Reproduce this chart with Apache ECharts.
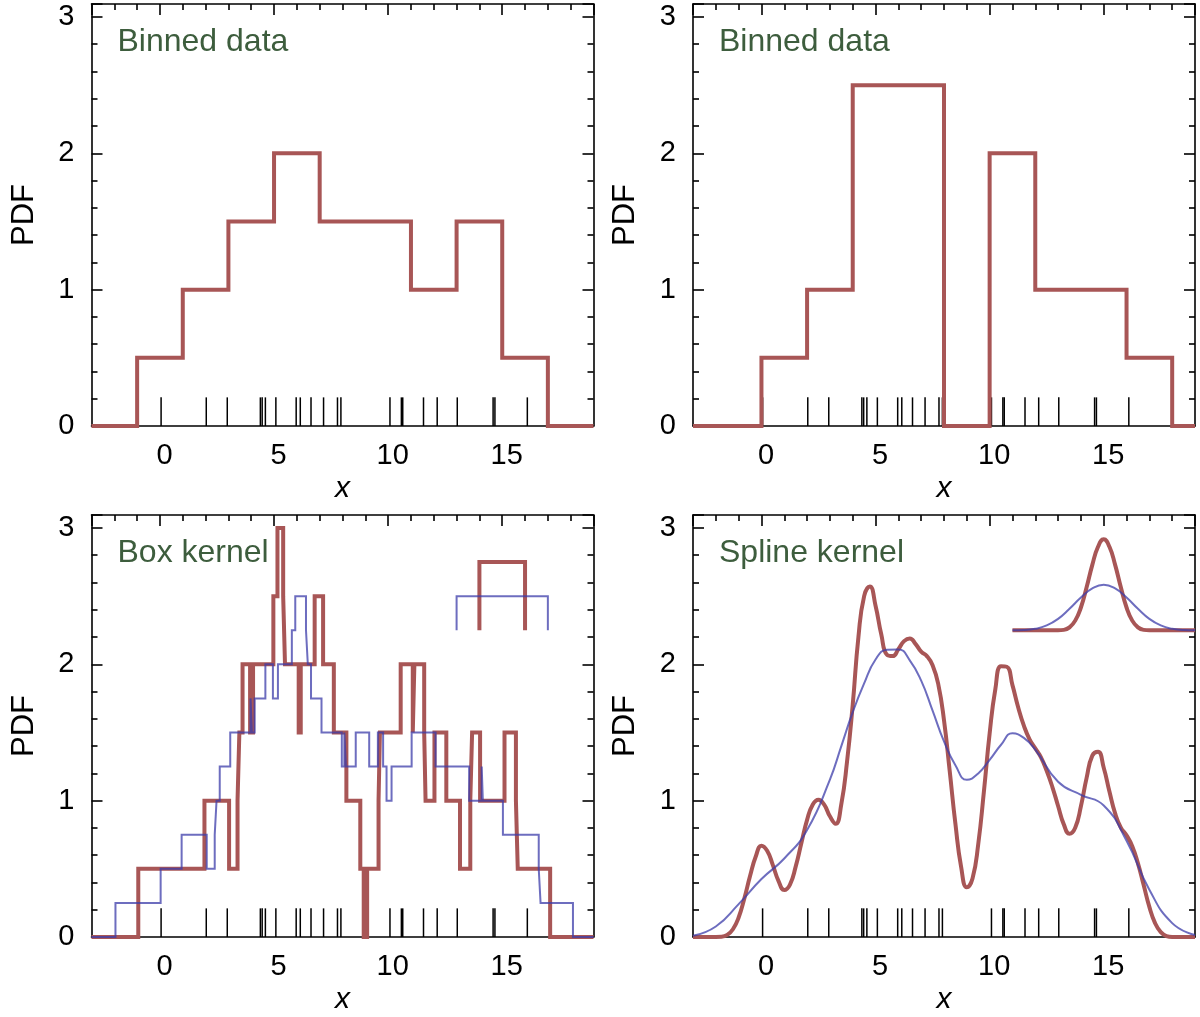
<!DOCTYPE html>
<html>
<head>
<meta charset="utf-8">
<script src="https://cdn.jsdelivr.net/npm/echarts@6/dist/echarts.min.js"></script>
<style>
html,body{margin:0;padding:0;background:#fff;}
#chart{width:1200px;height:1017px;}
</style>
</head>
<body>
<div id="chart"></div>
<script>
// ---------------- data ----------------
const panelLabels = ['Binned data', 'Binned data', 'Box kernel', 'Spline kernel'];
const xAxisName = 'x';
const yAxisName = 'PDF';

// sample positions (rug marks)
const rugX = [0.05, 2.03, 2.95, 4.40, 4.48, 4.62, 5.08, 5.97, 6.15, 6.62, 7.17, 7.78, 7.93,
              10.08, 10.58, 10.64, 11.55, 12.15, 13.03, 14.60, 14.68, 16.10];

// top-left histogram (bin edges, value held from each edge)
const histAEdges = [-3, -1, 1, 3, 5, 7, 9, 11, 13, 15, 17, 19];
const histAPdf   = [0, 0.5, 1, 1.5, 2, 1.5, 1.5, 1, 1.5, 0.5, 0, 0];

// top-right histogram
const histBEdges = [-3, 0, 2, 4, 6, 8, 10, 12, 14, 16, 18, 19];
const histBPdf   = [0, 0.5, 1, 2.5, 2.5, 0, 2, 1, 1, 0.5, 0, 0];

// box kernel, narrow (red)
const boxNarrowX = [-3, -0.95, 1.95, 3.03, 3.40, 3.48, 3.62, 3.95, 4.08, 4.97, 5.15, 5.40, 5.48, 6.08, 6.17,
                    6.78, 7.15, 7.62, 8.17, 8.78, 8.93, 9.08, 9.58, 9.64, 10.55, 11.08, 11.15, 11.58, 11.64,
                    12.03, 12.55, 13.15, 13.60, 13.68, 14.03, 15.10, 15.60, 15.68, 17.10, 19];
const boxNarrowPdf = [0, 0.5, 1, 0.5, 1, 1.5, 2, 1.5, 2, 2.5, 3, 2.5, 2, 1.5, 2,
                      2.5, 2, 1.5, 1, 0.5, 0, 0.5, 1, 1.5, 2, 1.5, 2, 1.5, 1,
                      1.5, 1, 0.5, 1, 1.5, 1, 1.5, 1, 0.5, 0, 0];
// box kernel, wide (blue)
const boxWideX = [-3, -1.95, 0.03, 0.95, 2.05, 2.40, 2.48, 2.62, 3.08, 3.97, 4.03, 4.15, 4.62, 4.95, 5.17,
                  5.78, 5.93, 6.40, 6.48, 6.62, 7.08, 7.97, 8.08, 8.15, 8.58, 9.17, 9.55, 9.78, 9.93, 10.15,
                  11.03, 12.08, 13.55, 14.10, 14.15, 15.03, 16.60, 16.68, 18.10, 19];
const boxWidePdf = [0, 0.25, 0.5, 0.75, 0.5, 0.75, 1, 1.25, 1.5, 1.75, 1.5, 1.75, 2, 1.75, 2,
                    2.25, 2.5, 2.25, 2, 1.75, 1.5, 1.25, 1.5, 1.25, 1.5, 1.25, 1.5, 1.25, 1, 1.25,
                    1.5, 1.25, 1, 1.25, 1, 0.75, 0.5, 0.25, 0, 0];
// box kernel shapes (inset)
const boxShapeNarrowX = [14, 14, 16, 16];
const boxShapeNarrowY = [2.25, 2.75, 2.75, 2.25];
const boxShapeWideX = [13, 13, 17, 17];
const boxShapeWideY = [2.25, 2.5, 2.5, 2.25];

// spline kernel, narrow (red)
const splineNarrowX = [-3, -2, -1.75, -1.5, -1.25, -1, -0.75, -0.5, -0.25, 0,
  0.25, 0.5, 0.75, 1, 1.25, 1.5, 1.75, 2, 2.25, 2.5,
  2.75, 3, 3.25, 3.5, 3.75, 4, 4.25, 4.5, 4.75, 5,
  5.25, 5.5, 5.75, 6, 6.25, 6.5, 6.75, 7, 7.25, 7.5,
  7.75, 8, 8.25, 8.5, 8.75, 9, 9.25, 9.5, 9.75, 10,
  10.25, 10.5, 10.75, 11, 11.25, 11.5, 11.75, 12, 12.25, 12.5,
  12.75, 13, 13.25, 13.5, 13.75, 14, 14.25, 14.5, 14.75, 15,
  15.25, 15.5, 15.75, 16, 16.25, 16.5, 16.75, 17, 17.25, 17.5,
  17.75, 18, 19];
const splineNarrowPdf = [0, 0, 0.001, 0.015, 0.057, 0.143, 0.283, 0.447, 0.590, 0.670,
  0.632, 0.527, 0.410, 0.345, 0.385, 0.516, 0.689, 0.859, 0.972, 1.007,
  0.970, 0.885, 0.830, 0.975, 1.285, 1.704, 2.200, 2.500, 2.570, 2.430,
  2.220, 2.070, 2.060, 2.110, 2.170, 2.190, 2.150, 2.093, 2.060, 1.993,
  1.853, 1.590, 1.217, 0.830, 0.515, 0.364, 0.429, 0.681, 1.069, 1.492,
  1.818, 1.986, 1.982, 1.847, 1.685, 1.550, 1.450, 1.384, 1.317, 1.219,
  1.100, 0.961, 0.826, 0.757, 0.801, 0.959, 1.167, 1.330, 1.358, 1.241,
  1.067, 0.906, 0.802, 0.746, 0.666, 0.540, 0.381, 0.221, 0.102, 0.036,
  0.007, 0, 0];
// spline kernel, wide (blue)
const splineWideX = [-3, -2, -1, 0, 1, 2, 3, 3.5, 4, 4.5, 5, 5.5, 6, 6.5, 7, 7.5, 8, 8.5, 9, 9.5,
                     10, 10.5, 11, 11.5, 12, 13, 14, 15, 16, 17, 18, 19];
const splineWidePdf = [0.009, 0.077, 0.241, 0.425, 0.576, 0.785, 1.155, 1.40, 1.649, 1.86, 2.035, 2.107,
                       2.109, 2.029, 1.880, 1.66, 1.434, 1.26, 1.153, 1.20, 1.299, 1.41, 1.494, 1.46,
                       1.374, 1.139, 1.043, 0.965, 0.706, 0.347, 0.102, 0.014];
// spline kernel shapes (inset)
const splineShapeNarrowX = [11, 13, 13.25, 13.5, 13.75, 14, 14.25, 14.5, 14.75, 15, 15.25, 15.5, 15.75, 16, 16.25, 16.5, 16.75, 17, 19];
const splineShapeNarrowY = [2.25, 2.25, 2.2526, 2.2708, 2.3203, 2.4167, 2.5648, 2.7292, 2.862, 2.9167, 2.862, 2.7292, 2.5648, 2.4167, 2.3203, 2.2708, 2.2526, 2.25, 2.25];
const splineShapeWideX = [11, 11.5, 12, 12.5, 13, 13.5, 14, 14.5, 15, 15.5, 16, 16.5, 17, 17.5, 18, 18.5, 19];
const splineShapeWideY = [2.25, 2.2513, 2.2604, 2.2852, 2.3333, 2.4074, 2.4896, 2.556, 2.5833, 2.556, 2.4896, 2.4074, 2.3333, 2.2852, 2.2604, 2.2513, 2.25];

// axis ranges
const X_MIN = -3, X_MAX = 19, Y_MIN = 0, Y_MAX = 3.095;

// ---------------- styling ----------------
const RED = '#a85656';
const BLUE = 'rgba(60,60,170,0.75)';
const GREEN = '#3d5d3d';
const FONT = '"Liberation Sans", Arial, Helvetica, sans-serif';
const RUG_H = 0.21;
const AX = {color: '#000', width: 1.6};

const grids = [
  {left: 91.5, top: 4, width: 502, height: 422},
  {left: 693, top: 4, width: 502, height: 422},
  {left: 91.5, top: 515, width: 502, height: 422},
  {left: 693, top: 515, width: 502, height: 422}
];

const zip = (xs, ys) => xs.map((v, i) => [v, ys[i]]);

const xAxes = [], yAxes = [];
grids.forEach((g, gi) => {
  xAxes.push({
    gridIndex: gi, type: 'value', min: X_MIN, max: X_MAX, splitNumber: 5, position: 'bottom',
    axisLine: {show: true, onZero: false, lineStyle: AX},
    axisTick: {show: false}, minorTick: {show: false}, splitLine: {show: false},
    axisLabel: {show: true, margin: 15, fontSize: 29, color: '#000', fontFamily: FONT,
                padding: [0, 0, 0, 9], showMinLabel: false, showMaxLabel: false},
    name: xAxisName, nameLocation: 'middle', nameGap: 48,
    nameTextStyle: {fontSize: 30, fontStyle: 'italic', color: '#000', fontFamily: FONT}
  });
  xAxes.push({
    gridIndex: gi, type: 'value', min: X_MIN, max: X_MAX, splitNumber: 5, position: 'top',
    axisLine: {show: true, onZero: false, lineStyle: AX},
    axisTick: {show: true, inside: true, length: 11, lineStyle: AX},
    minorTick: {show: true, splitNumber: 5, length: 6, lineStyle: AX},
    splitLine: {show: false}, axisLabel: {show: false}
  });
  yAxes.push({
    gridIndex: gi, type: 'value', min: Y_MIN, max: Y_MAX, interval: 1, position: 'left',
    axisLine: {show: true, onZero: false, lineStyle: AX},
    axisTick: {show: true, inside: true, length: 11, lineStyle: AX},
    minorTick: {show: true, splitNumber: 5, length: 6, lineStyle: AX},
    splitLine: {show: false},
    axisLabel: {show: true, margin: 17, fontSize: 29, color: '#000', fontFamily: FONT,
                padding: [0, 0, 6, 0], showMaxLabel: false},
    name: yAxisName, nameLocation: 'middle', nameGap: 52, nameRotate: 90,
    nameTextStyle: {fontSize: 31, color: '#000', fontFamily: FONT}
  });
  yAxes.push({
    gridIndex: gi, type: 'value', min: Y_MIN, max: Y_MAX, interval: 1, position: 'right',
    axisLine: {show: true, onZero: false, lineStyle: AX},
    axisTick: {show: true, inside: true, length: 11, lineStyle: AX},
    minorTick: {show: true, splitNumber: 5, length: 6, lineStyle: AX},
    splitLine: {show: false}, axisLabel: {show: false}
  });
});

function lineSeries(gi, data, color, width, extra) {
  return Object.assign({
    type: 'line', xAxisIndex: gi * 2, yAxisIndex: gi * 2, data: data,
    showSymbol: false, symbol: 'none', animation: false, silent: true,
    lineStyle: {color: color, width: width, join: 'miter', cap: 'butt'}
  }, extra || {});
}

function rugSeries(gi) {
  return {
    type: 'custom', xAxisIndex: gi * 2, yAxisIndex: gi * 2, animation: false, silent: true,
    data: rugX.map(v => [v, 0]), encode: {x: 0, y: 1},
    renderItem: function (params, api) {
      const p0 = api.coord([api.value(0), 0]);
      const p1 = api.coord([api.value(0), RUG_H]);
      return {type: 'line', shape: {x1: p0[0], y1: p0[1], x2: p1[0], y2: p1[1]},
              style: {stroke: '#000', lineWidth: 1.5}};
    }
  };
}

const SMOOTH = {smooth: 0.5};
const series = [
  lineSeries(0, zip(histAEdges, histAPdf), RED, 4, {step: 'end'}),
  rugSeries(0),
  lineSeries(1, zip(histBEdges, histBPdf), RED, 4, {step: 'end'}),
  rugSeries(1),
  lineSeries(2, zip(boxNarrowX, boxNarrowPdf), RED, 4, {step: 'end'}),
  lineSeries(2, zip(boxWideX, boxWidePdf), BLUE, 2, {step: 'end'}),
  lineSeries(2, zip(boxShapeNarrowX, boxShapeNarrowY), RED, 4),
  lineSeries(2, zip(boxShapeWideX, boxShapeWideY), BLUE, 2),
  rugSeries(2),
  lineSeries(3, zip(splineNarrowX, splineNarrowPdf), RED, 4, SMOOTH),
  lineSeries(3, zip(splineWideX, splineWidePdf), BLUE, 2, SMOOTH),
  lineSeries(3, zip(splineShapeNarrowX, splineShapeNarrowY), RED, 4, SMOOTH),
  lineSeries(3, zip(splineShapeWideX, splineShapeWideY), BLUE, 2, SMOOTH),
  rugSeries(3)
];

const titles = panelLabels.map((t, gi) => ({
  text: t, left: grids[gi].left + 26, top: grids[gi].top + 22, padding: 0,
  textStyle: {fontSize: 32, fontWeight: 'normal', color: GREEN, fontFamily: FONT}
}));

const chart = echarts.init(document.getElementById('chart'), null, {renderer: 'canvas'});
chart.setOption({
  backgroundColor: '#fff',
  animation: false,
  title: titles,
  grid: grids.map(g => Object.assign({containLabel: false}, g)),
  xAxis: xAxes,
  yAxis: yAxes,
  series: series
});
</script>
</body>
</html>
